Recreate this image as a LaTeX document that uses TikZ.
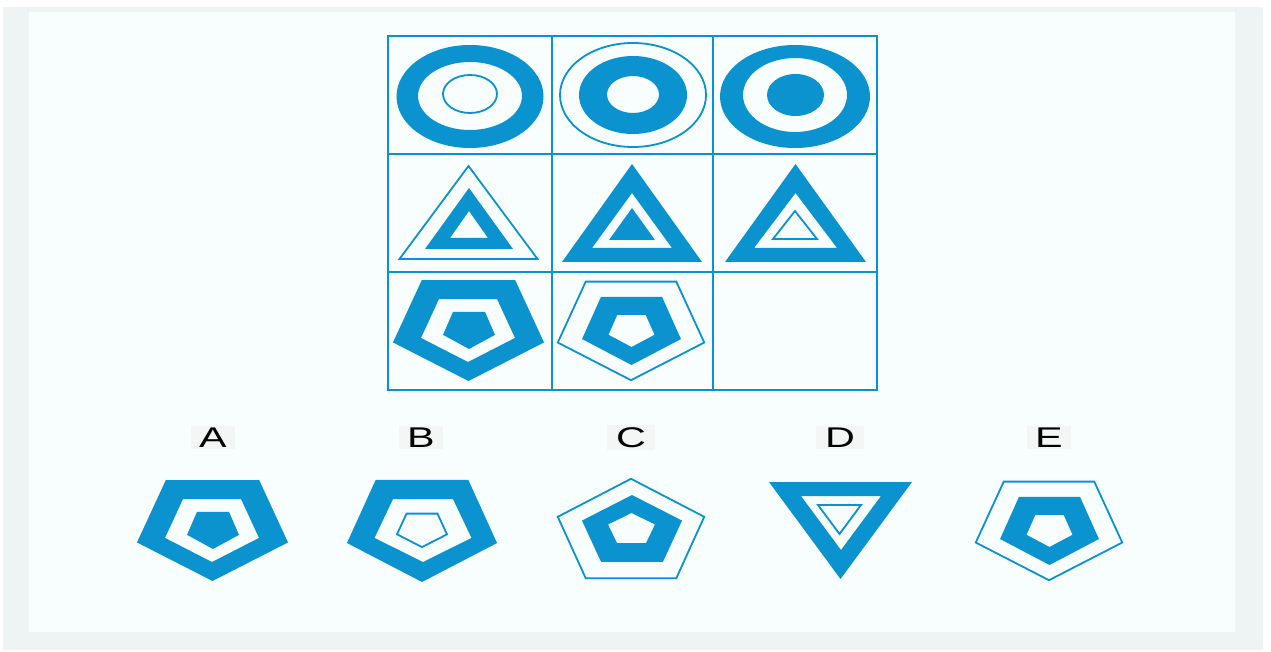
\documentclass[tikz,border=0pt]{standalone}
\usepackage{fontspec}
\setmainfont{Liberation Sans}
\definecolor{shapeblue}{HTML}{0A93CF}
\definecolor{framegray}{HTML}{EEF4F4}
\definecolor{panelwhite}{HTML}{F8FDFD}
\definecolor{labelgray}{HTML}{F4F6F6}
\usetikzlibrary{calc}
% pentagon: centre x, centre y, x radius, y radius, angle of first corner
\newcommand{\pentpath}[5]{($(#1,#2)+(#5:#3 and #4)$) -- ($(#1,#2)+(#5+72:#3 and #4)$) -- ($(#1,#2)+(#5+144:#3 and #4)$) -- ($(#1,#2)+(#5+216:#3 and #4)$) -- ($(#1,#2)+(#5+288:#3 and #4)$) -- cycle}
% triangle: centre x, apex y, base y, half base
\newcommand{\tripath}[4]{(#1,#2) -- (#1+#4,#3) -- (#1-#4,#3) -- cycle}

\begin{document}
\begin{tikzpicture}[x=1pt,y=-1pt,
    solidring/.style={fill=shapeblue, even odd rule},
    thinline/.style={draw=shapeblue, line width=1.8},
    gridline/.style={draw=shapeblue, line width=1.8},
    optlabel/.style={font=\fontsize{28.5}{32}\selectfont, fill=labelgray, xscale=1.45, transform shape, inner xsep=6, inner ysep=2}]
  \useasboundingbox (0,0) rectangle (1271,652);
  % Background panels
  \fill[white] (0,0) rectangle (1271,652);
  \fill[framegray] (3,7) rectangle (1263,650);
  \fill[panelwhite] (29,12) rectangle (1235,632);
  % Matrix grid
  \draw[gridline] (388,36) rectangle (877,390);
  \foreach \gx in {552,713} \draw[gridline] (\gx,36) -- (\gx,390);
  \foreach \gy in {154,272} \draw[gridline] (388,\gy) -- (877,\gy);
  % Row 1: ellipses
  \fill[solidring] (470,96.5) ellipse (73.5 and 51.5) (470,96) ellipse (52 and 34);
  \draw[thinline] (470,94) ellipse (27 and 19);
  \draw[thinline] (633,95) ellipse (73 and 52);
  \fill[solidring] (633,95) ellipse (54 and 39) (633,94.5) ellipse (26 and 18.5);
  \fill[solidring] (795,96.5) ellipse (75 and 51.5) (795,95) ellipse (52 and 37);
  \fill[shapeblue] (795.5,95) ellipse (28.5 and 21);
  % Row 2: triangles
  \draw[thinline] \tripath{468.5}{166}{259}{69};
  \fill[solidring] \tripath{469}{188}{249}{44} \tripath{469}{211}{238}{19};
  \fill[solidring] \tripath{632}{164}{262}{70} \tripath{632}{193}{248}{40};
  \fill[shapeblue] \tripath{632}{208}{240}{23};
  \fill[solidring] \tripath{795.5}{164}{262}{70.5} \tripath{795.5}{193}{248}{41.5};
  \draw[thinline] \tripath{795}{211}{239}{22};
  % Row 3: pentagons
  \fill[solidring] \pentpath{468.5}{325.2}{79.4}{55.8}{90} \pentpath{468}{327.2}{49.4}{34.8}{90};
  \fill[shapeblue] \pentpath{469}{328.5}{27.3}{20.5}{90};
  \draw[thinline] \pentpath{631}{325.7}{77}{54.5}{90};
  \fill[solidring] \pentpath{631.5}{327.4}{52}{37.6}{90} \pentpath{631.5}{329.3}{24.2}{17.7}{90};
  % Answer labels
  \foreach \lab/\lx in {A/213,B/421,C/631,D/840,E/1049}
    \node[optlabel] (lab\lab) at (\lx,437.5) {\lab};
  % Option A
  \begin{scope}[shift={(-256,200)}]
    \fill[solidring] \pentpath{468.5}{325.2}{79.4}{55.8}{90} \pentpath{468}{327.2}{49.4}{34.8}{90};
    \fill[shapeblue] \pentpath{469}{328.5}{27.3}{20.5}{90};
  \end{scope}
  % Option B
  \fill[solidring] \pentpath{422}{525.6}{78.9}{56.4}{90} \pentpath{423}{527.2}{51}{34.8}{90};
  \draw[thinline] \pentpath{422}{528.6}{26.3}{18.5}{90};
  % Option C
  \draw[thinline] \pentpath{631}{533.8}{77}{55}{270};
  \fill[solidring] \pentpath{632}{532}{52.6}{37}{270} \pentpath{631.5}{529.6}{24.7}{16.6}{270};
  % Option D
  \fill[solidring] \tripath{840.5}{579}{482}{71.5} \tripath{841}{550}{496}{40};
  \draw[thinline] \tripath{839.5}{534}{505}{21.5};
  % Option E
  \begin{scope}[shift={(418,200)}]
    \draw[thinline] \pentpath{631}{325.7}{77}{54.5}{90};
    \fill[solidring] \pentpath{631.5}{327.4}{52}{37.6}{90} \pentpath{631.5}{329.3}{24.2}{17.7}{90};
  \end{scope}
\end{tikzpicture}
\end{document}
